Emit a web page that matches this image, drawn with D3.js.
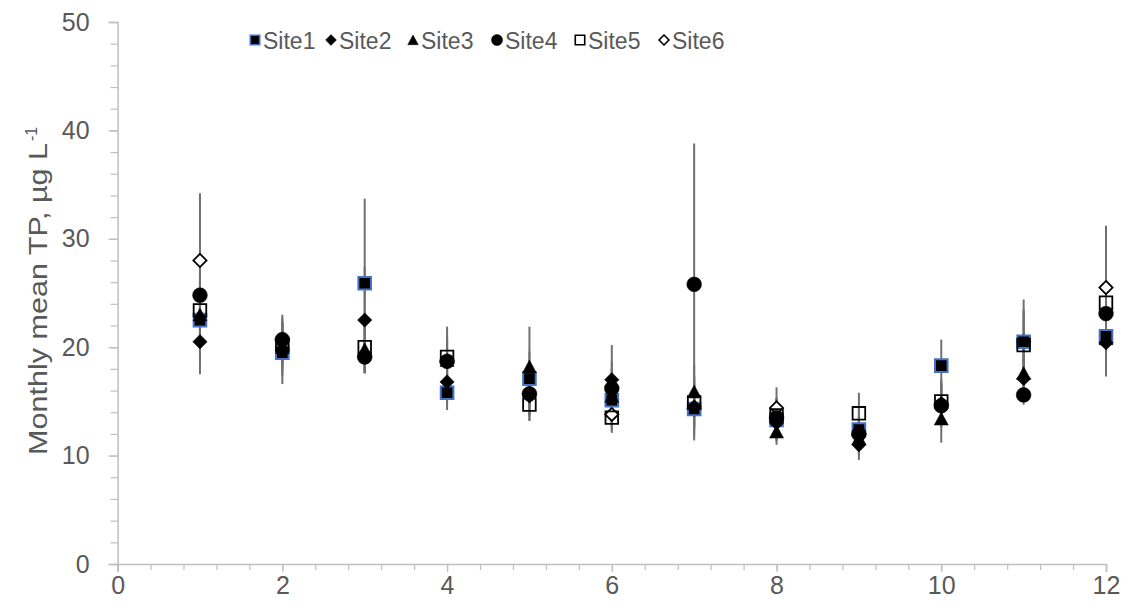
<!DOCTYPE html>
<html>
<head>
<meta charset="utf-8">
<script src="https://cdn.jsdelivr.net/npm/d3@7"></script>
<style>
  html, body { margin: 0; padding: 0; background: #fff; }
  svg { display: block; font-family: "Liberation Sans", Arial, sans-serif; }
</style>
</head>
<body>
<svg id="chart" width="1128" height="612"></svg>
<script>
// Monthly mean total phosphorus at six sites, with ±1 SD error bars
const months = [1, 2, 3, 4, 5, 6, 7, 8, 9, 10, 11, 12];
const siteNames = ["Site1", "Site2", "Site3", "Site4", "Site5", "Site6"];

const site1 = [22.5, 19.5, 25.9, 15.8, 17.1, 15.1, 14.3, 13.3, 12.4, 18.3, 20.5, 21.0];
const site2 = [20.5, 19.8, 22.5, 16.8, 15.5, 17.0, 14.5, 13.0, 11.0, 14.8, 17.1, 20.4];
const site3 = [23.0, 20.0, 19.8, 18.8, 18.2, 15.5, 15.9, 12.2, 11.6, 13.4, 17.6, 20.8];
const site4 = [24.8, 20.7, 19.1, 18.7, 15.7, 16.2, 25.8, 13.5, 12.0, 14.6, 15.6, 23.1];
const site5 = [23.4, 20.2, 20.0, 19.1, 14.7, 13.5, 14.9, 13.7, 13.9, 15.0, 20.2, 24.1];
const site6 = [28.0, 20.7, 19.1, 18.7, 15.7, 13.8, 14.3, 14.4, 12.0, 14.7, 20.5, 25.5];

const sd1 = [3.5, 2.9, 7.8, 1.6, 2.5, 2.5, 2.5, 2.0, 2.0, 2.4, 3.9, 3.2];
const sd2 = [3.0, 2.5, 4.9, 2.0, 2.3, 3.2, 2.0, 1.5, 1.4, 2.0, 2.0, 3.1];
const sd3 = [3.0, 2.2, 2.0, 2.2, 3.7, 2.5, 2.5, 1.2, 1.5, 2.2, 2.5, 3.0];
const sd4 = [4.0, 2.3, 1.5, 2.5, 2.0, 2.5, 13.0, 1.8, 1.8, 2.0, 0.9, 4.0];
const sd5 = [3.0, 2.0, 2.4, 2.8, 1.5, 1.4, 2.5, 1.6, 1.9, 2.0, 3.0, 5.0];
const sd6 = [6.2, 2.0, 1.5, 2.0, 2.0, 1.5, 2.9, 1.9, 1.5, 2.0, 3.0, 5.7];

const xTicks = [0, 2, 4, 6, 8, 10, 12];
const yTicks = [0, 10, 20, 30, 40, 50];

const values = [site1, site2, site3, site4, site5, site6];
const sds = [sd1, sd2, sd3, sd4, sd5, sd6];

const svg = d3.select("#chart");
const plot = { left: 117.6, right: 1106, top: 22, bottom: 564 };

const x = d3.scaleLinear().domain([0, 12]).range([plot.left, plot.right]);
const y = d3.scaleLinear().domain([0, 50]).range([plot.bottom, plot.top]);

const axisColor = "#bfbfbf";
const textColor = "#595959";
const font = "'Liberation Sans', Arial, sans-serif";

// Custom marker shapes (r = half-width)
const shapes = {
  square: r => `M${-r},${-r}H${r}V${r}H${-r}Z`,
  diamond: r => `M0,${-r}L${r},0L0,${r}L${-r},0Z`,
  triangle: r => `M0,${-r * 0.95}L${r},${r * 0.9}L${-r},${r * 0.9}Z`,
  circle: r => `M${-r},0A${r},${r} 0 1,0 ${r},0A${r},${r} 0 1,0 ${-r},0Z`
};

// Marker styles per site
const styles = [
  { shape: "square", r: 6.3, fill: "#000", stroke: "#4472c4", sw: 2 },
  { shape: "diamond", r: 7.2, fill: "#000", stroke: "#000", sw: 0.5 },
  { shape: "triangle", r: 7, fill: "#000", stroke: "#000", sw: 0.5 },
  { shape: "circle", r: 7.4, fill: "#000", stroke: "#000", sw: 0.5 },
  { shape: "square", r: 6.3, fill: "none", stroke: "#000", sw: 1.8 },
  { shape: "diamond", r: 6.6, fill: "#fff", stroke: "#000", sw: 1.8 }
];
// Plotting order: Site6 sits at the bottom of the marker stack
const drawOrder = [5, 0, 1, 2, 3, 4];

// Y axis
const yAxis = d3.axisLeft(y).tickValues(yTicks).tickSize(9).tickPadding(19);
const gy = svg.append("g").attr("transform", `translate(${plot.left},0)`).call(yAxis);
gy.select(".domain").attr("stroke", axisColor).attr("stroke-width", 1.5);
gy.selectAll(".tick line").attr("stroke", axisColor).attr("stroke-width", 1.3);
gy.selectAll(".tick text").attr("fill", textColor).style("font-size", "25px").style("font-family", font);
const gyMinor = svg.append("g").attr("transform", `translate(${plot.left},0)`)
  .call(d3.axisLeft(y).tickValues(d3.range(0, 50.01, 2)).tickSize(7).tickFormat(""));
gyMinor.select(".domain").remove();
gyMinor.selectAll(".tick line").attr("stroke", axisColor).attr("stroke-width", 1.2);

// X axis
const xAxis = d3.axisBottom(x).tickValues(xTicks).tickSize(8).tickPadding(4);
const gx = svg.append("g").attr("transform", `translate(0,${plot.bottom})`).call(xAxis);
gx.select(".domain").attr("stroke", axisColor).attr("stroke-width", 1.5);
gx.selectAll(".tick line").attr("stroke", axisColor).attr("stroke-width", 1.3);
gx.selectAll(".tick text").attr("fill", textColor).style("font-size", "25px").style("font-family", font);
const gxMinor = svg.append("g").attr("transform", `translate(0,${plot.bottom})`)
  .call(d3.axisBottom(x).tickValues(d3.range(0, 12.01, 0.4)).tickSize(6).tickFormat(""));
gxMinor.select(".domain").remove();
gxMinor.selectAll(".tick line").attr("stroke", axisColor).attr("stroke-width", 1.2);

// Y axis title
const titleG = svg.append("g").attr("transform", "translate(47,455) rotate(-90)");
titleG.append("text")
  .attr("x", 0).attr("y", 0)
  .attr("fill", textColor)
  .style("font-size", "25px")
  .attr("textLength", 312)
  .attr("lengthAdjust", "spacingAndGlyphs")
  .text("Monthly mean TP, µg L");
titleG.append("text")
  .attr("x", 314).attr("y", -10)
  .attr("fill", textColor)
  .style("font-size", "16px")
  .text("-1");

// Error bars (drawn beneath all markers)
const errG = svg.append("g");
values.forEach((vals, si) => {
  errG.selectAll(null)
    .data(months.map((m, i) => ({ m, v: vals[i], e: sds[si][i] })))
    .join("line")
    .attr("x1", d => x(d.m)).attr("x2", d => x(d.m))
    .attr("y1", d => y(d.v + d.e)).attr("y2", d => y(d.v - d.e))
    .attr("stroke", "#707070")
    .attr("stroke-width", 2);
});

// Markers
drawOrder.forEach(si => {
  const s = styles[si];
  const vals = values[si];
  svg.append("g").selectAll("path")
    .data(months.map((m, i) => ({ m, v: vals[i] })))
    .join("path")
    .attr("transform", d => `translate(${x(d.m)},${y(d.v)})`)
    .attr("d", shapes[s.shape](s.r))
    .attr("fill", s.fill)
    .attr("stroke", s.stroke)
    .attr("stroke-width", s.sw);
});

// Legend
const legendX = [255, 331, 413, 497, 580, 664];
const legend = svg.append("g");
siteNames.forEach((name, i) => {
  const s = styles[i];
  const g = legend.append("g").attr("transform", `translate(${legendX[i]},40)`);
  g.append("path")
    .attr("d", shapes[s.shape](s.r * 0.75))
    .attr("fill", s.fill).attr("stroke", s.stroke).attr("stroke-width", Math.min(s.sw, 1.6));
  g.append("text").attr("x", 8).attr("y", 8.5)
    .attr("fill", textColor).style("font-size", "23px").text(name);
});
</script>
</body>
</html>
